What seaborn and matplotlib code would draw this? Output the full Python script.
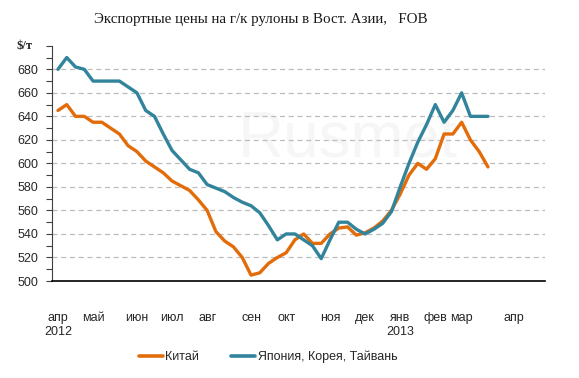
"""
Export HRC prices, East Asia FOB: China vs Japan/Korea/Taiwan (weekly).
"""
import matplotlib
matplotlib.use("Agg")

import matplotlib.pyplot as plt
import matplotlib.ticker as mticker
import seaborn as sns
import numpy as np
import pandas as pd

# ── Data (weekly, Apr 2012 – Mar 2013) ────────────────────────────────────────
china = [645, 650, 640, 640, 635, 635, 630, 625, 615, 610,
         602, 597, 592, 585, 581, 577, 569, 560, 542, 534,
         529, 520, 505, 507, 515, 520, 524, 535, 540, 532,
         532, 540, 545, 546, 539, 541, 545, 551, 560, 574,
         590, 600, 595, 604, 625, 625, 635, 620, 610, 597]
jkt = [680, 690, 682, 680, 670, 670, 670, 670, 665, 660,
       645, 640, 625, 611, 603, 595, 592, 582, 579, 576,
       571, 567, 564, 558, 547, 535, 540, 540, 535, 530,
       519, 535, 550, 550, 544, 540, 544, 549, 559, 580,
       600, 618, 633, 650, 635, 645, 660, 640, 640, 640]
week = np.arange(len(china))

month_pos = [0, 4, 9, 13, 17, 22, 26, 31, 35, 39, 43, 46, 52]
month_labels = ["апр\n2012", "май", "июн", "июл", "авг", "сен", "окт",
                "ноя", "дек", "янв\n2013", "фев", "мар", "апр"]
y_ticks = [500, 520, 540, 560, 580, 600, 620, 640, 660, 680, 700]

SERIES = ["Китай", "Япония, Корея, Тайвань"]
COLORS = {"Китай": "#E36C0A", "Япония, Корея, Тайвань": "#31849B"}

df = pd.concat([
    pd.DataFrame({"week": week, "price": china, "region": SERIES[0]}),
    pd.DataFrame({"week": week, "price": jkt, "region": SERIES[1]}),
])

# ── Style ─────────────────────────────────────────────────────────────────────
sns.set_theme(style="white")
plt.rcParams["font.family"] = ["Liberation Sans", "DejaVu Sans"]

W, H = 579, 378
fig = plt.figure(figsize=(W / 100, H / 100), dpi=100)
ax = fig.add_axes([52 / W, 1 - 281 / H, (545 - 52) / W, (281 - 45.8) / H])

# faint watermark
ax.text(0.6, 0.6, "Rusmet", transform=ax.transAxes, ha="center", va="center",
        fontsize=46, color="#f6f6f6", zorder=0)

sns.lineplot(data=df, x="week", y="price", hue="region", palette=COLORS,
             linewidth=2.4, ax=ax, legend=False, zorder=3)

ax.set_xlim(-0.68, 55.5)
ax.set_ylim(500, 700)
ax.set_yticks(y_ticks)
ax.set_yticklabels([str(v) for v in y_ticks[:-1]] + [""], fontsize=9)
ax.yaxis.set_minor_locator(mticker.MultipleLocator(10))
ax.tick_params(axis="y", which="both", left=True, length=4, width=0.8,
               color="#404040", pad=6, labelcolor="#262626")
ax.set_xticks(month_pos)
ax.set_xticklabels(month_labels, fontsize=9, color="#262626", linespacing=1.25)
ax.tick_params(axis="x", length=0, pad=22)
ax.set_xlabel("")
ax.set_ylabel("")

for v in y_ticks[1:-1]:
    ax.axhline(v, color="#bdbdbd", lw=0.9, ls=(0, (4, 3)), zorder=1)

for side in ["top", "right"]:
    ax.spines[side].set_visible(False)
ax.spines["left"].set_color("#404040")
ax.spines["left"].set_linewidth(0.8)
ax.spines["bottom"].set_color("black")
ax.spines["bottom"].set_linewidth(1.2)

fig.text(33 / W, 1 - 46 / H, "$/т", ha="right", va="center", fontsize=9,
         fontweight="bold", family=["Liberation Serif", "DejaVu Serif"])
fig.text(261 / W, 1 - 20 / H, "Экспортные цены на г/к рулоны в Вост. Азии,   FOB",
         ha="center", va="center", fontsize=10.8,
         family=["Liberation Serif", "DejaVu Serif"], color="#1a1a1a")

handles = [plt.Line2D([], [], color=COLORS[s], lw=2.6) for s in SERIES]
fig.legend(handles, SERIES, loc="center", bbox_to_anchor=(268 / W, 1 - 357 / H),
           ncol=2, frameon=False, fontsize=9, handlelength=1.9,
           handletextpad=0.2, columnspacing=2.6)

fig.savefig("out.png", dpi=100)
